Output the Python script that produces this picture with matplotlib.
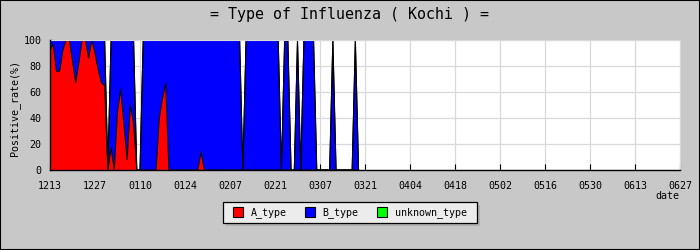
import numpy as np
import matplotlib
matplotlib.use('Agg')
import matplotlib.pyplot as plt
from matplotlib.patches import Rectangle

plt.rcParams['font.family'] = 'DejaVu Sans Mono'

# === Data (daily positive rate %, day 0 = 12/13) ===
a_type = [92, 97, 76, 76, 92, 100, 100, 84, 67, 83, 100, 100, 86, 100,
          90, 77, 67, 65, 0, 17, 0, 45, 62, 35, 8, 50, 36, 0,
          0, 0, 0, 0, 0, 0, 40, 55, 67, 0, 0, 0, 0, 0,
          0, 0, 0, 0, 0, 14, 0, 0, 0, 0, 0, 0, 0, 0,
          0, 0, 0, 0, 0, 0, 0, 0, 0, 0, 0, 0, 0, 0,
          0, 0, 0, 0, 0, 0, 0, 0, 0, 0, 0, 0, 0, 0,
          0, 0, 0, 0, 0, 0, 0, 0, 0, 0, 0, 0, 0]
b_type = [8, 3, 24, 24, 8, 0, 0, 16, 33, 17, 0, 0, 14, 0,
          10, 23, 33, 35, 0, 83, 100, 55, 38, 65, 92, 50, 64, 0,
          0, 100, 100, 100, 100, 100, 60, 45, 33, 100, 100, 100, 100, 100,
          100, 100, 100, 100, 100, 86, 100, 100, 100, 100, 100, 100, 100, 100,
          100, 100, 100, 100, 0, 100, 100, 100, 100, 100, 100, 100, 100, 100,
          100, 100, 0, 100, 100, 0, 0, 100, 0, 100, 100, 100, 100, 0,
          0, 0, 0, 0, 100, 0, 0, 0, 0, 0, 0, 100, 0]
unknown_type = [0] * len(a_type)

tick_labels = ['1213', '1227', '0110', '0124', '0207', '0221', '0307', '0321',
               '0404', '0418', '0502', '0516', '0530', '0613', '0627']
series_names = ['A_type', 'B_type', 'unknown_type']
series_colors = ['#ff0000', '#0000ff', '#00ff00']

days = np.arange(len(a_type))
a = np.array(a_type, dtype=float)
b = np.array(b_type, dtype=float)
u = np.array(unknown_type, dtype=float)

# === Figure ===
fig = plt.figure(figsize=(7, 2.5), dpi=100, facecolor='#c8c8c8')
ax = fig.add_axes([50 / 700, 80 / 250, 630 / 700, 130 / 250])
ax.set_facecolor('white')

ax.stackplot(days, a, b, u, colors=series_colors, linewidth=0)
ax.plot(days, a, color='black', lw=0.75)
ax.plot(days, a + b, color='black', lw=0.75)
ax.plot(days, a + b + u, color='black', lw=0.75)

n_ticks = len(tick_labels)
ax.set_xlim(0, (n_ticks - 1) * 14)
ax.set_ylim(0, 100)
ax.set_xticks(np.arange(n_ticks) * 14)
ax.set_xticklabels(tick_labels)
ax.set_yticks(np.arange(0, 101, 20))
ax.set_yticks(np.arange(0, 101, 10), minor=True)
ax.tick_params(axis='both', which='both', direction='in', labelsize=7.2, color='black')
ax.tick_params(axis='x', length=4, pad=8)
ax.tick_params(axis='y', which='major', length=3, pad=6)
ax.tick_params(axis='y', which='minor', length=2)

ax.grid(True, color='#d9d9d9', lw=0.9)
ax.set_axisbelow(True)
for s in ['top', 'right']:
    ax.spines[s].set_color('#d9d9d9')
for s in ['left', 'bottom']:
    ax.spines[s].set_color('black')
    ax.spines[s].set_linewidth(1.0)
    ax.spines[s].set_zorder(5)

ax.set_ylabel('Positive_rate(%)', fontsize=7.2)
ax.yaxis.set_label_coords(-0.048, 0.477)

fig.text(350 / 700, 1 - 14 / 250, '= Type of Influenza ( Kochi ) =',
         ha='center', va='center', fontsize=10.8)
fig.text(679 / 700, 1 - 196 / 250, 'date', ha='right', va='center', fontsize=7.2)

# === Legend (drawn by hand, pixel coordinates) ===
def fx(x):
    return x / 700

def fy(y):
    return 1 - y / 250

fig.patches.append(Rectangle((fx(226.3), fy(226.3)), 253.4 / 700, 21 / 250,
                             transform=fig.transFigure, facecolor='#b0b0b0',
                             edgecolor='none'))
fig.patches.append(Rectangle((fx(223.3), fy(223.3)), 253.4 / 700, 21 / 250,
                             transform=fig.transFigure, facecolor='#ececec',
                             edgecolor='black', lw=0.9))
square_x = [233.3, 305.0, 377.3]
for sx, name, col in zip(square_x, series_names, series_colors):
    fig.patches.append(Rectangle((fx(sx), fy(217.3)), 10 / 700, 10 / 250,
                                 transform=fig.transFigure, facecolor=col,
                                 edgecolor='black', lw=0.8))
    fig.text(fx(sx + 17.4), fy(212.3), name, ha='left', va='center', fontsize=7.2)

fig.patches.append(Rectangle((0, 0), 1, 1, transform=fig.transFigure, fill=False,
                             edgecolor='black', lw=1.5))

fig.savefig('out.png', dpi=100, facecolor=fig.get_facecolor())
